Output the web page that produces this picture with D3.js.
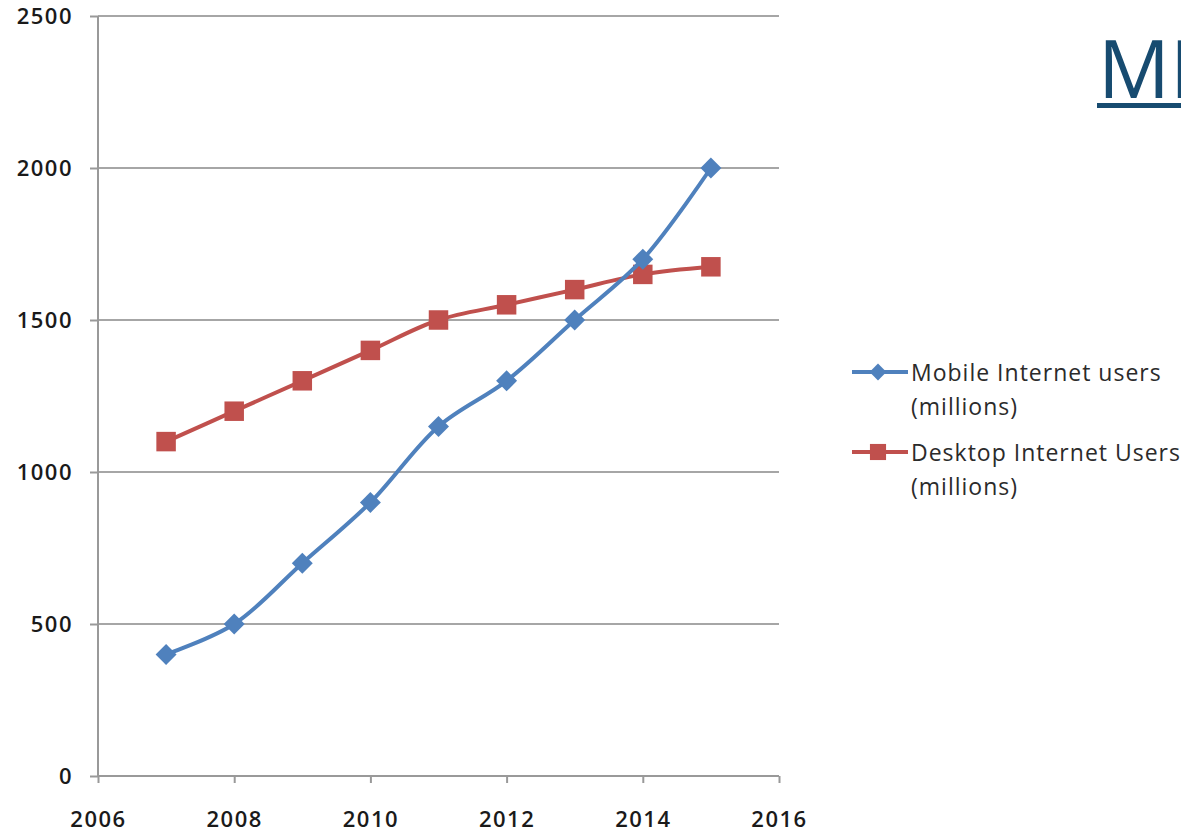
<!DOCTYPE html>
<html>
<head>
<meta charset="utf-8">
<style>
  body { margin: 0; background: #fff; }
  svg { display: block; }
</style>
</head>
<body>
<script src="https://d3js.org/d3.v7.min.js"></script>
<script>
var years = [2007, 2008, 2009, 2010, 2011, 2012, 2013, 2014, 2015];
var mobileUsers = [400, 500, 700, 900, 1150, 1300, 1500, 1700, 2000];
var desktopUsers = [1100, 1200, 1300, 1400, 1500, 1550, 1600, 1650, 1675];
var xTicks = [2006, 2008, 2010, 2012, 2014, 2016];
var yTicks = [0, 500, 1000, 1500, 2000, 2500];
var seriesNames = [["Mobile Internet users", "(millions)"], ["Desktop Internet Users", "(millions)"]];
var seriesColors = ["#4f81bd", "#c0504d"];

var width = 1181, height = 833;
var svg = d3.select("body").append("svg").attr("width", width).attr("height", height);

var x = d3.scaleLinear().domain([2006, 2016]).range([98, 779]);
var y = d3.scaleLinear().domain([0, 2500]).range([776, 16]);

var font = "'Open Sans', sans-serif";

// gridlines
svg.selectAll(".grid").data(yTicks.slice(1)).enter().append("line")
  .attr("x1", x(2006)).attr("x2", x(2016))
  .attr("y1", function(d) { return y(d); }).attr("y2", function(d) { return y(d); })
  .attr("stroke", "#a6a6a6").attr("stroke-width", 2);

// y axis
var yAxis = svg.append("g").attr("transform", "translate(" + x(2006) + ",0)")
  .call(d3.axisLeft(y).tickValues(yTicks).tickFormat(d3.format("d")).tickSize(8).tickPadding(17));
// x axis
var xAxis = svg.append("g").attr("transform", "translate(0," + y(0) + ")")
  .call(d3.axisBottom(x).tickValues(xTicks).tickFormat(d3.format("d")).tickSize(8).tickPadding(27));

[yAxis, xAxis].forEach(function(a) {
  a.select(".domain").attr("stroke", "#999").attr("stroke-width", 2);
  a.selectAll(".tick line").attr("stroke", "#999").attr("stroke-width", 2);
  a.selectAll(".tick text").attr("fill", "#1a1a1a")
    .style("font-family", font).style("font-size", "22px").style("font-weight", "600")
    .style("letter-spacing", "1.5px");
});
xAxis.selectAll(".tick line").attr("y2", 7);
xAxis.select(".domain").attr("d", "M" + x(2006) + ",0H" + x(2016));
yAxis.select(".domain").attr("d", "M0," + y(2500) + "V" + y(0));

var line = d3.line().x(function(d, i) { return x(years[i]); }).y(function(d) { return y(d); })
  .curve(d3.curveCatmullRom.alpha(0.5));

var data = [mobileUsers, desktopUsers];
var diamond = d3.symbol().type(d3.symbolDiamond2).size(280);
var square = d3.symbol().type(d3.symbolSquare).size(380);

// desktop first, mobile on top
[1, 0].forEach(function(s) {
  svg.append("path").datum(data[s]).attr("d", line)
    .attr("fill", "none").attr("stroke", seriesColors[s]).attr("stroke-width", 4);
  svg.selectAll(".m" + s).data(data[s]).enter().append("path")
    .attr("transform", function(d, i) { return "translate(" + x(years[i]) + "," + y(d) + ")"; })
    .attr("d", s === 0 ? diamond : square)
    .attr("fill", seriesColors[s]);
});

// legend
var legendY = [372, 452];
seriesNames.forEach(function(n, s) {
  var g = svg.append("g").attr("transform", "translate(0," + legendY[s] + ")");
  g.append("line").attr("x1", 852).attr("x2", 908).attr("y1", 0).attr("y2", 0)
    .attr("stroke", seriesColors[s]).attr("stroke-width", 4);
  g.append("path").attr("transform", "translate(878,0)")
    .attr("d", s === 0 ? d3.symbol().type(d3.symbolDiamond2).size(180) : d3.symbol().type(d3.symbolSquare).size(260))
    .attr("fill", seriesColors[s]);
  n.forEach(function(t, k) {
    g.append("text").attr("x", 911).attr("y", 9 + k * 34).text(t)
      .attr("fill", "#2b2b2b").style("font-family", font).style("font-size", "23px")
      .style("letter-spacing", "1px");
  });
});

// cut-off heading
svg.append("text").attr("x", 1098).attr("y", 98).text("MI")
  .attr("fill", "#174b70").style("font-family", font).style("font-size", "80px");
svg.append("rect").attr("x", 1097).attr("y", 103).attr("width", 90).attr("height", 5).attr("fill", "#174b70");
</script>
</body>
</html>
